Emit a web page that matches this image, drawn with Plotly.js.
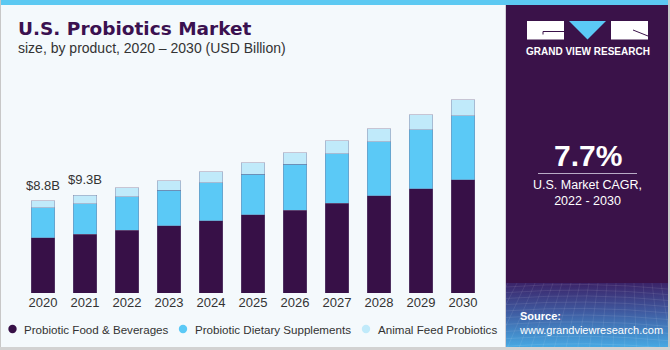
<!DOCTYPE html>
<html>
<head>
<meta charset="utf-8">
<script src="https://cdn.plot.ly/plotly-3.0.1.min.js"></script>
<style>
  html, body { margin: 0; padding: 0; background: #f4f9fc; }
  #chart { width: 670px; height: 350px; }
</style>
</head>
<body>
<div id="chart"></div>
<script>
// ---- data ----
const years = ["2020","2021","2022","2023","2024","2025","2026","2027","2028","2029","2030"];
const foodBeverages = [5.24, 5.58, 5.96, 6.41, 6.89, 7.43, 7.90, 8.57, 9.27, 9.93, 10.79];
const dietarySupplements = [2.89, 2.94, 3.21, 3.36, 3.62, 3.87, 4.34, 4.70, 5.14, 5.62, 6.10];
const animalFeed = [0.67, 0.78, 0.86, 0.92, 1.02, 1.11, 1.11, 1.24, 1.24, 1.43, 1.52];
const seriesNames = ["Probiotic Food & Beverages", "Probiotic Dietary Supplements", "Animal Feed Probiotics"];
const valueLabelYears = ["2020", "2021"];
const valueLabels = ["$8.8B", "$9.3B"];
const cagrText = "7.7%";

// ---- geometry helpers (pixel -> paper) ----
const L = 22, R = 484, T = 83, B = 293;
const W = R - L, H = B - T;
const px = x => (x - L) / W;
const py = y => (B - y) / H;

const colors = ["#371047", "#5bc9f6", "#c0eafa"];
const FONT = "Liberation Sans, Arial, sans-serif";

const traces = [foodBeverages, dietarySupplements, animalFeed].map((vals, i) => ({
  type: "bar",
  x: years,
  y: vals,
  name: seriesNames[i],
  marker: { color: colors[i], line: { width: 0.6, color: "rgba(120,105,140,0.6)" } },
  hoverinfo: "skip",
  showlegend: false
}));

const totals = years.map((_, i) => foodBeverages[i] + dietarySupplements[i] + animalFeed[i]);

const annotations = [];
valueLabels.forEach((t, k) => {
  const idx = years.indexOf(valueLabelYears[k]);
  annotations.push({
    x: idx, y: totals[idx], xref: "x", yref: "y",
    text: t, showarrow: false, yanchor: "bottom", yshift: 6,
    font: { family: FONT, size: 13, color: "#333333" }
  });
});

// title & subtitle
annotations.push({
  xref: "paper", yref: "paper", x: px(16), y: py(28), xanchor: "left", yanchor: "middle",
  text: "<b>U.S. Probiotics Market</b>", showarrow: false,
  font: { family: "DejaVu Sans, sans-serif", size: 18.5, color: "#3b1150" }
});
annotations.push({
  xref: "paper", yref: "paper", x: px(16), y: py(48.5), xanchor: "left", yanchor: "middle",
  text: "size, by product, 2020 \u2013 2030 (USD Billion)", showarrow: false,
  font: { family: FONT, size: 14, color: "#333333" }
});

// legend texts
const legendCircleX = [12.5, 183, 366];
const legendTextX = [22, 192.5, 375.5];
const legendY = 329;
seriesNames.forEach((n, i) => {
  annotations.push({
    xref: "paper", yref: "paper", x: px(legendTextX[i]), y: py(legendY), xanchor: "left", yanchor: "middle",
    text: n, showarrow: false, font: { family: FONT, size: 11.6, color: "#333333" }
  });
});

// right panel texts
annotations.push({
  xref: "paper", yref: "paper", x: px(587.5), y: py(51), xanchor: "center", yanchor: "middle",
  text: "<b>GRAND VIEW RESEARCH</b>", showarrow: false,
  font: { family: FONT, size: 10, color: "#ffffff" }
});
annotations.push({
  xref: "paper", yref: "paper", x: px(587.5), y: py(155), xanchor: "center", yanchor: "middle",
  text: "<b>" + cagrText + "</b>", showarrow: false,
  font: { family: FONT, size: 30, color: "#ffffff" }
});
annotations.push({
  xref: "paper", yref: "paper", x: px(587.5), y: py(193), xanchor: "center", yanchor: "middle",
  text: "U.S. Market CAGR,<br>2022 - 2030", showarrow: false,
  font: { family: FONT, size: 12.5, color: "#ffffff" }
});
annotations.push({
  xref: "paper", yref: "paper", x: px(517), y: py(322.5), xanchor: "left", yanchor: "middle", align: "left",
  text: "<b>Source:</b><br>www.grandviewresearch.com", showarrow: false,
  font: { family: FONT, size: 11, color: "#ffffff" }
});

// shapes
const rect = (x0, y0, x1, y1, fill, extra) => Object.assign({
  type: "rect", xref: "paper", yref: "paper",
  x0: px(x0), x1: px(x1), y0: py(y0), y1: py(y1),
  fillcolor: fill, line: { width: 0 }, layer: "below"
}, extra || {});

const shapes = [
  rect(506, 5, 668, 347, "#3a1249"),
  rect(0, 0, 670, 5, "#5cc9f2"),
  rect(0, 0, 1, 350, "#c8c8c8"),
  rect(668, 0, 670, 350, "#c8c8c8"),
  rect(0, 347, 670, 350, "#d2d2d2"),
  rect(505, 5, 506, 347, "#d0d0d8"),
  // logo
  rect(527, 21, 564, 39.5, "#ffffff", { layer: "above" }),
  rect(611, 21, 648, 39.5, "#ffffff", { layer: "above" }),
  {
    type: "path", xref: "paper", yref: "paper", layer: "above",
    path: `M ${px(569)},${py(21)} L ${px(606)},${py(21)} L ${px(587.5)},${py(39.5)} Z`,
    fillcolor: "#5bc9f6", line: { width: 0 }
  },
  { type: "line", xref: "paper", yref: "paper", layer: "above",
    x0: px(543), x1: px(564), y0: py(31.5), y1: py(31.5), line: { color: "#3a1249", width: 1 } },
  { type: "line", xref: "paper", yref: "paper", layer: "above",
    x0: px(543), x1: px(543), y0: py(31.5), y1: py(34.5), line: { color: "#3a1249", width: 1 } },
  { type: "line", xref: "paper", yref: "paper", layer: "above",
    x0: px(633), x1: px(648), y0: py(30), y1: py(36), line: { color: "#3a1249", width: 1 } },
  // CAGR divider
  { type: "line", xref: "paper", yref: "paper", layer: "above",
    x0: px(538), x1: px(637), y0: py(173.5), y1: py(173.5), line: { color: "#b9acc6", width: 1 } }
];
// legend circles
legendCircleX.forEach((cx, i) => {
  shapes.push({
    type: "circle", xref: "paper", yref: "paper", layer: "above",
    xsizemode: "pixel", ysizemode: "pixel",
    xanchor: px(cx), yanchor: py(legendY),
    x0: -4.2, x1: 4.2, y0: -4.2, y1: 4.2,
    fillcolor: colors[i], line: { width: 0 }
  });
});

// gradient source box image
let grid = "";
for (let i = 0; i < 12; i++) {
  const yy = 4 + i * 5.5 + i * i * 0.12;
  grid += `<path d='M0 ${yy} Q81 ${yy - 6} 162 ${yy + 2}' stroke='white' stroke-opacity='0.13' fill='none' stroke-width='0.7'/>`;
}
for (let i = -6; i < 22; i++) {
  const x0 = i * 9;
  grid += `<path d='M${x0 + 20} 0 L${x0 * 1.3 - 10} 64' stroke='white' stroke-opacity='0.12' fill='none' stroke-width='0.7'/>`;
}
const svg = `<svg xmlns='http://www.w3.org/2000/svg' width='162' height='64' viewBox='0 0 162 64' preserveAspectRatio='none'>` +
  `<defs><linearGradient id='g' x1='0' y1='0' x2='0' y2='1'>` +
  `<stop offset='0' stop-color='#3b2368'/><stop offset='0.45' stop-color='#3f5aa0'/><stop offset='1' stop-color='#47a9e3'/>` +
  `</linearGradient></defs><rect width='162' height='64' fill='url(#g)'/>${grid}</svg>`;
const imgSrc = "data:image/svg+xml;charset=utf-8," + encodeURIComponent(svg);

const layout = {
  width: 670, height: 350,
  margin: { l: L, r: 670 - R, t: T, b: 350 - B, pad: 0 },
  paper_bgcolor: "#f4f9fc",
  plot_bgcolor: "#f4f9fc",
  barmode: "stack",
  bargap: 0.43,
  showlegend: false,
  xaxis: {
    type: "category", range: [-0.5, 10.5],
    showgrid: false, zeroline: false, showline: false, ticks: "",
    tickfont: { family: FONT, size: 13, color: "#333333" },
    fixedrange: true
  },
  yaxis: {
    range: [0, 20], showgrid: false, zeroline: false, showline: false,
    showticklabels: false, ticks: "", fixedrange: true
  },
  annotations: annotations,
  shapes: shapes,
  images: [{
    source: imgSrc, xref: "paper", yref: "paper",
    x: px(506), y: py(283), sizex: (668 - 506) / W, sizey: (347 - 283) / H,
    xanchor: "left", yanchor: "top", sizing: "stretch", layer: "above"
  }]
};

Plotly.newPlot("chart", traces, layout, { displayModeBar: false, staticPlot: true });
</script>
</body>
</html>
